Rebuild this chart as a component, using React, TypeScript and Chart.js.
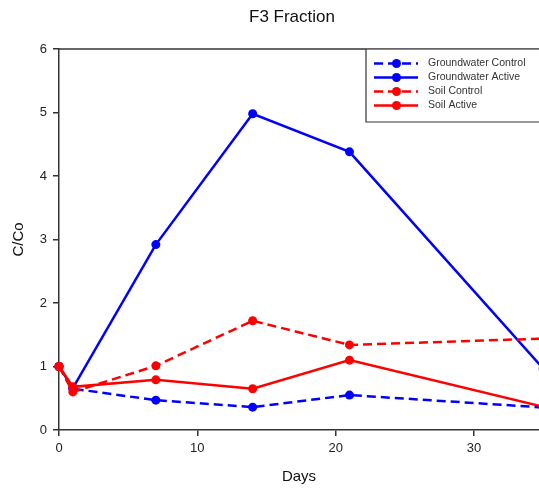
import React, { useEffect, useRef } from "react";
import { Chart, registerables } from "chart.js";

Chart.register(...registerables);

const TITLE = "F3 Fraction";
const X_TITLE = "Days";
const Y_TITLE = "C/Co";

const days = [0, 1, 7, 14, 21, 35];
const seriesLabels = ["Groundwater Control", "Groundwater Active", "Soil Control", "Soil Active"];
const gwControl = [1, 0.65, 0.47, 0.36, 0.55, 0.355];
const gwActive = [1, 0.66, 2.92, 4.98, 4.38, 0.97];
const soilControl = [1, 0.6, 1.01, 1.72, 1.34, 1.44];
const soilActive = [1, 0.68, 0.79, 0.65, 1.1, 0.365];

const xTicks = [0, 10, 20, 30];
const yTicks = [0, 1, 2, 3, 4, 5, 6];

const FONT = '"Liberation Sans", Arial, sans-serif';
const AXIS = "#333333";

const overlayPlugin = {
  id: "overlay",
  afterDraw(chart: any) {
    const { ctx, chartArea } = chart;
    ctx.save();
    // top frame line
    ctx.strokeStyle = AXIS;
    ctx.lineWidth = 1.5;
    ctx.beginPath();
    ctx.moveTo(chartArea.left, chartArea.top);
    ctx.lineTo(chart.width + 2, chartArea.top);
    ctx.stroke();

    // title
    ctx.fillStyle = "#111";
    ctx.font = `17px ${FONT}`;
    ctx.textAlign = "center";
    ctx.textBaseline = "middle";
    ctx.fillText(TITLE, 292, 17);

    // legend box
    const lx = 366;
    const top = chartArea.top + 0.75;
    const bottom = 122;
    ctx.fillStyle = "#fff";
    ctx.fillRect(lx, top, chart.width - lx + 2, bottom - top);
    ctx.strokeStyle = AXIS;
    ctx.lineWidth = 1.2;
    ctx.beginPath();
    ctx.moveTo(lx, chartArea.top);
    ctx.lineTo(lx, bottom);
    ctx.lineTo(chart.width + 2, bottom);
    ctx.stroke();

    chart.data.datasets.forEach((ds: any, i: number) => {
      const y = 63.5 + i * 14;
      ctx.strokeStyle = ds.borderColor;
      ctx.lineWidth = 2.5;
      ctx.setLineDash(ds.borderDash || []);
      ctx.beginPath();
      ctx.moveTo(374, y);
      ctx.lineTo(418, y);
      ctx.stroke();
      ctx.setLineDash([]);
      ctx.fillStyle = ds.borderColor;
      ctx.beginPath();
      ctx.arc(396.5, y, 4.5, 0, Math.PI * 2);
      ctx.fill();
      ctx.fillStyle = "#333";
      ctx.font = `10.5px ${FONT}`;
      ctx.textAlign = "left";
      ctx.textBaseline = "middle";
      ctx.fillText(ds.label, 428, y);
    });
    ctx.restore();
  },
};

function makeDs(label: string, values: number[], color: string, dashed: boolean, order: number) {
  return {
    label,
    data: days.map((d, i) => ({ x: d, y: values[i] })),
    borderColor: color,
    backgroundColor: color,
    borderWidth: 2.5,
    borderDash: dashed ? [9, 5] : [],
    pointRadius: 4.5,
    pointBorderWidth: 0,
    pointBackgroundColor: color,
    pointBorderColor: color,
    tension: 0,
    order,
    clip: { left: 10, top: 10, bottom: 10, right: 0 },
  };
}

export default function App() {
  const ref = useRef<HTMLCanvasElement>(null);
  useEffect(() => {
    if (!ref.current) return;
    const chart = new Chart(ref.current, {
      type: "line",
      data: {
        datasets: [
          makeDs(seriesLabels[0], gwControl, "#0000ff", true, 4),
          makeDs(seriesLabels[1], gwActive, "#0000ff", false, 3),
          makeDs(seriesLabels[2], soilControl, "#ff0000", true, 2),
          makeDs(seriesLabels[3], soilActive, "#ff0000", false, 1),
        ] as any,
      },
      options: {
        animation: false,
        responsive: false,
        maintainAspectRatio: false,
        layout: { autoPadding: false, padding: { top: 49, left: 0, right: 0, bottom: 0 } },
        plugins: {
          legend: { display: false },
          title: { display: false },
          tooltip: { enabled: false },
        },
        scales: {
          x: {
            type: "linear",
            min: 0,
            max: 34.7,
            afterBuildTicks: (s: any) => {
              s.ticks = xTicks.map((v) => ({ value: v }));
            },
            afterFit: (s: any) => {
              s.height = 62;
              s.paddingRight = 0;
              s.paddingLeft = 0;
            },
            ticks: {
              color: "#222",
              font: { family: FONT, size: 13 },
              padding: 5,
              maxRotation: 0,
            },
            grid: {
              display: true,
              drawOnChartArea: false,
              drawTicks: true,
              tickLength: 6,
              color: AXIS,
              lineWidth: 1.5,
            },
            border: { display: true, color: AXIS, width: 1.5 },
            title: {
              display: true,
              text: X_TITLE,
              color: "#111",
              font: { family: FONT, size: 15 },
              padding: { top: 0, bottom: 6.6 },
            },
          },
          y: {
            type: "linear",
            min: 0,
            max: 6,
            afterBuildTicks: (s: any) => {
              s.ticks = yTicks.map((v) => ({ value: v }));
            },
            afterFit: (s: any) => {
              s.width = 59;
            },
            ticks: {
              color: "#222",
              font: { family: FONT, size: 13 },
              padding: 6,
            },
            grid: {
              display: true,
              drawOnChartArea: false,
              drawTicks: true,
              tickLength: 6,
              color: AXIS,
              lineWidth: 1.5,
            },
            border: { display: true, color: AXIS, width: 1.5 },
            title: {
              display: true,
              text: Y_TITLE,
              color: "#111",
              font: { family: FONT, size: 15 },
              padding: { top: 9.6, bottom: 0 },
            },
          },
        },
      } as any,
      plugins: [overlayPlugin],
    });
    return () => chart.destroy();
  }, []);
  return (
    <div style={{ position: "absolute", left: 0, top: 0, width: 539, height: 492, overflow: "hidden", background: "#fff" }}>
      <canvas ref={ref} width={539} height={492} style={{ display: "block" }} />
    </div>
  );
}
